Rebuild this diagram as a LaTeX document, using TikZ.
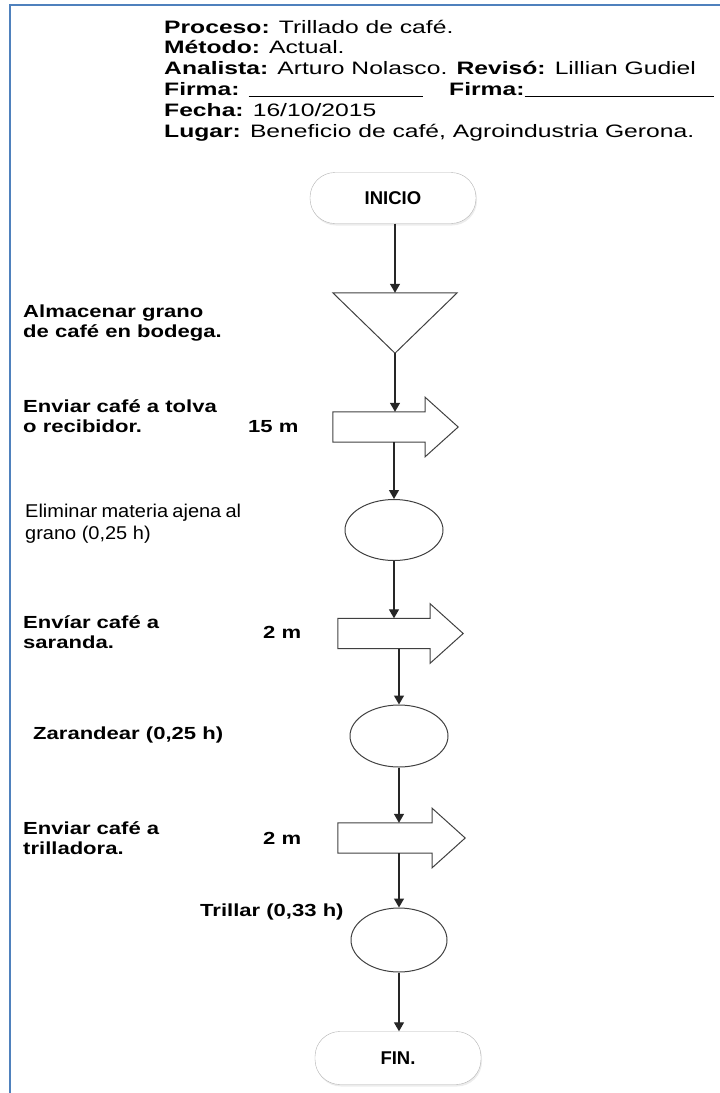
\documentclass[tikz,border=0pt]{standalone}
\usepackage{fontspec}
\setmainfont{Liberation Sans}
\newfontfamily\headfont[FakeStretch=1.37]{Liberation Sans}
\newfontfamily\widefont[FakeStretch=1.26]{Liberation Sans}
\newfontfamily\plainfont[FakeStretch=1.08]{Liberation Sans}
\usepackage{xcolor}
\usetikzlibrary{shapes.geometric,arrows.meta,positioning,calc,shadows}
\definecolor{frameblue}{RGB}{79,129,189}
\definecolor{inkgray}{RGB}{64,64,64}

\begin{document}
\begin{tikzpicture}[x=1pt, y=-1pt]
\tikzstyle{terminal} = [rectangle, draw=black!30, fill=white, rounded corners=25pt, minimum width=166pt, minimum height=51pt, font=\bfseries\fontsize{18.5}{20}\selectfont, drop shadow={opacity=0.15, shadow xshift=1pt, shadow yshift=-2pt}]
\tikzstyle{operation} = [ellipse, draw=inkgray, line width=1pt, minimum width=98pt, minimum height=61pt]
\tikzstyle{spot} = [rectangle, inner sep=0pt]
\tikzstyle{outline} = [draw=inkgray, line width=1pt]
\tikzstyle{flow} = [line width=1.3pt, black!85, -{Triangle[width=10pt,length=9pt]}]
\tikzstyle{hdr} = [inner sep=0pt, anchor=base west, font=\headfont\fontsize{18}{21}\selectfont]
\tikzstyle{lbl} = [inner sep=0pt, anchor=west, align=left, font=\widefont\bfseries\fontsize{17.5}{20.5}\selectfont]

\useasboundingbox (0,0) rectangle (720,1093);
\draw[frameblue, line width=2.5pt] (10,1093) -- (10,5) -- (720,5);

% encabezado
\node[hdr] (proc) at (164,33) {\textbf{Proceso:} Trillado de café.};
\node[hdr] (metodo) at (164,53.5) {\textbf{Método:} Actual.};
\node[hdr] (analista) at (164,74) {\textbf{Analista:} Arturo Nolasco. \textbf{Revisó:} Lillian Gudiel};
\node[hdr] (firma) at (164,95) {\makebox[285pt][l]{\textbf{Firma:} \rule[-1.5pt]{174pt}{0.8pt}}\textbf{Firma:}\rule[-1.5pt]{189pt}{0.8pt}};
\node[hdr] (fecha) at (164,116) {\textbf{Fecha:} 16/10/2015};
\node[hdr] (lugar) at (164,137) {\textbf{Lugar:} Beneficio de café, Agroindustria Gerona.};

% diagrama
\node[terminal] (inicio) at (393,198) {INICIO};
\node[spot, minimum width=124pt, minimum height=60pt] (almacen) at (395,323) {};
\node[spot, minimum width=92pt, minimum height=30pt] (tolva) at (379,427) {};
\node[operation] (op1) at (394,530) {};
\node[spot, minimum width=92pt, minimum height=30pt] (saranda) at (384,633.5) {};
\node[operation, minimum height=62pt] (op2) at (399,736) {};
\node[spot, minimum width=94pt, minimum height=30pt] (trilla) at (385,838) {};
\node[operation, minimum width=96pt, minimum height=64pt] (op3) at (399,940) {};
\node[terminal, minimum height=53pt] (fin) at (398,1058) {FIN.};

\draw[outline] (almacen.north west) -- (almacen.north east) -- (almacen.south) -- cycle;
\foreach \n in {tolva,saranda,trilla}
  \draw[outline] (\n.north west) -- (\n.north east) -- ++(0,-14.5) -- ($(\n.east)+(33,0)$)
    -- ($(\n.south east)+(0,14.5)$) -- (\n.south east) -- (\n.south west) -- cycle;

\draw[flow] (almacen.north |- inicio.south) -- (almacen.north);
\draw[flow] (almacen.south) -- (almacen.south |- tolva.north);
\draw[flow] (op1.north |- tolva.south) -- (op1.north);
\draw[flow] (op1.south) -- (op1.south |- saranda.north);
\draw[flow] (op2.north |- saranda.south) -- (op2.north);
\draw[flow] (op2.south) -- (op2.south |- trilla.north);
\draw[flow] (op3.north |- trilla.south) -- (op3.north);
\draw[flow] (op3.south) -- (op3.south |- fin.north);

% etiquetas
\node[lbl] (lalmacen) at (23,323) {Almacenar grano\\de café en bodega.};
\node[lbl] (ltolva) at (23,416) {Enviar café a tolva\\o recibidor.};
\node[lbl] (dtolva) at (248,427) {15 m};
\node[lbl, font=\plainfont\fontsize{18.5}{22}\selectfont, text width=216pt, align=justify] (lop1) at (25,524) {Eliminar materia ajena al grano (0,25 h)};
\node[lbl] (lsaranda) at (23,632) {Envíar café a\\saranda.};
\node[lbl] (dsaranda) at (263,632) {2 m};
\node[lbl] (lop2) at (33,735) {Zarandear (0,25 h)};
\node[lbl] (ltrilla) at (23,838) {Enviar café a\\trilladora.};
\node[lbl] (dtrilla) at (263,838) {2 m};
\node[lbl] (lop3) at (200,912) {Trillar (0,33 h)};
\end{tikzpicture}
\end{document}
